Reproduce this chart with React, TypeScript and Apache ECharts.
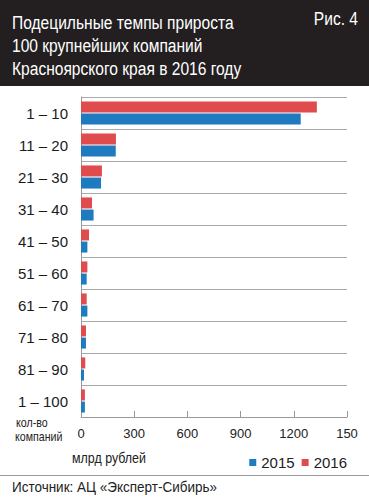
import React, { useEffect, useRef } from "react";
import * as echarts from "echarts";

const categories = ["1 – 10", "11 – 20", "21 – 30", "31 – 40", "41 – 50", "51 – 60", "61 – 70", "71 – 80", "81 – 90", "1 – 100"];
const values2015 = [1239, 196, 113, 71, 36, 32, 36, 28, 17, 22];
const values2016 = [1330, 197, 118, 62, 45, 36, 32, 28, 24, 22];
const xTickLabels = ["0", "300", "600", "900", "1200", "150"];
const titleLines = ["Подецильные темпы прироста", "100 крупнейших компаний", "Красноярского края в 2016 году"];

const FONT = "'Liberation Sans', Arial, sans-serif";

export default function App() {
  const ref = useRef<HTMLDivElement>(null);
  useEffect(() => {
    if (!ref.current) return;
    const chart = echarts.init(ref.current, undefined, { renderer: "svg" });
    chart.setOption({
      animation: false,
      backgroundColor: "#ffffff",
      textStyle: { fontFamily: FONT },
      grid: { left: 81, right: 22, top: 97, height: 320, containLabel: false },
      legend: {
        data: ["2015", "2016"],
        orient: "horizontal",
        right: 17,
        top: 450,
        width: 160,
        icon: "rect",
        itemWidth: 7,
        itemHeight: 7,
        itemGap: 7,
        textStyle: { fontSize: 15, color: "#222", fontFamily: FONT },
      },
      xAxis: {
        type: "value",
        min: 0,
        max: 1500,
        interval: 300,
        axisLine: { show: true, lineStyle: { color: "#999", width: 1 } },
        axisTick: { show: true, inside: true, length: 6, lineStyle: { color: "#999" } },
        splitLine: { show: false },
        axisLabel: {
          fontSize: 13,
          color: "#222",
          margin: 10,
          fontFamily: FONT,
          formatter: (_v: number, i: number) => xTickLabels[i] ?? "",
        },
      },
      yAxis: {
        type: "category",
        data: categories,
        inverse: true,
        axisLine: { show: true, lineStyle: { color: "#999", width: 1 } },
        axisTick: { show: false },
        splitLine: { show: true, lineStyle: { color: "#aaa", width: 1 } },
        axisLabel: { fontSize: 15, color: "#1a1a1a", margin: 13, fontFamily: FONT },
      },
      series: [
        {
          name: "2016",
          type: "bar",
          data: values2016,
          barWidth: 11,
          barGap: "10%",
          itemStyle: { color: "#e04b4e" },
        },
        {
          name: "2015",
          type: "bar",
          data: values2015,
          barWidth: 11,
          barGap: "10%",
          itemStyle: { color: "#1f7bc0" },
        },
      ],
      graphic: [
        { type: "rect", shape: { x: 0, y: 0, width: 369, height: 86 }, style: { fill: "#231f20" }, silent: true },
        ...titleLines.map((t, i) => ({
          type: "text",
          x: 12,
          y: 22 + i * 23,
          scaleX: 0.82,
          style: { text: t, fill: "#ffffff", font: `19px ${FONT}`, textVerticalAlign: "middle" },
        })),
        {
          type: "text",
          x: 358,
          y: 18,
          scaleX: 0.82,
          style: { text: "Рис. 4", fill: "#ffffff", font: `19px ${FONT}`, textAlign: "right", textVerticalAlign: "middle" },
        },
        { type: "text", x: 16, y: 423, scaleX: 0.82, style: { text: "кол-во", fill: "#222", font: `13px ${FONT}`, textVerticalAlign: "middle" } },
        { type: "text", x: 15, y: 437, scaleX: 0.82, style: { text: "компаний", fill: "#222", font: `13px ${FONT}`, textVerticalAlign: "middle" } },
        { type: "text", x: 72, y: 458, scaleX: 0.83, style: { text: "млрд рублей", fill: "#222", font: `15px ${FONT}`, textVerticalAlign: "middle" } },
        { type: "line", shape: { x1: 0, y1: 475.5, x2: 369, y2: 475.5 }, style: { stroke: "#999", lineWidth: 1 } },
        { type: "text", x: 12, y: 487, scaleX: 0.9, style: { text: "Источник: АЦ «Эксперт-Сибирь»", fill: "#222", font: `15px ${FONT}`, textVerticalAlign: "middle" } },
      ],
    });
    return () => chart.dispose();
  }, []);
  return <div ref={ref} style={{ position: "absolute", left: 0, top: 0, width: 369, height: 500 }} />;
}
